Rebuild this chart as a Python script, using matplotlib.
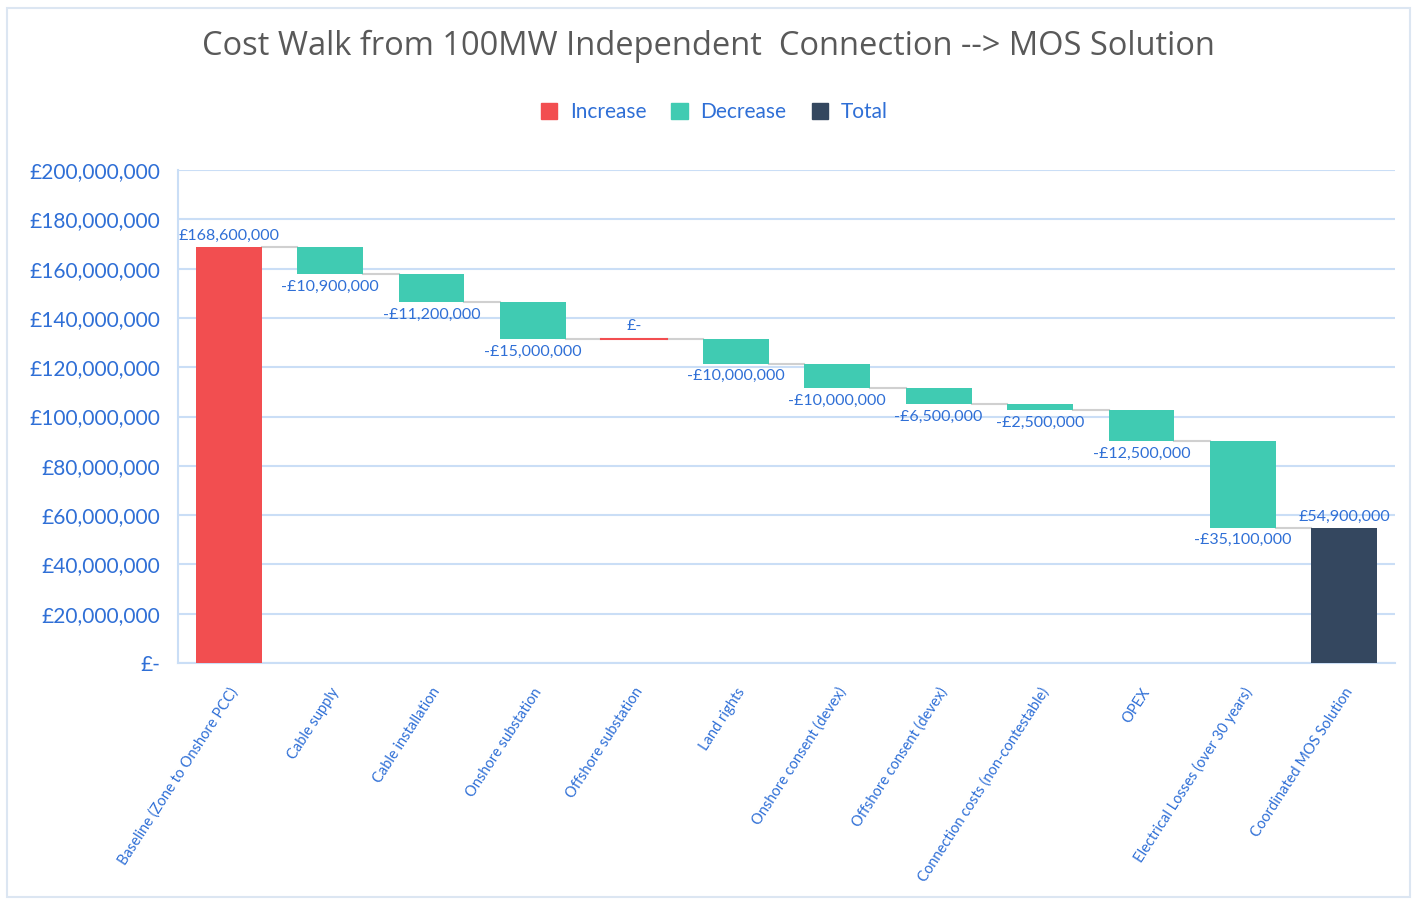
import matplotlib.pyplot as plt
from matplotlib.patches import Patch, Rectangle
from matplotlib.ticker import FuncFormatter
import numpy as np

# Cost walk data (GBP)
categories = ['Baseline (Zone to Onshore PCC)', 'Cable supply', 'Cable installation',
              'Onshore substation', 'Offshore substation', 'Land rights',
              'Onshore consent (devex)', 'Offshore consent (devex)',
              'Connection costs (non-contestable)', 'OPEX',
              'Electrical Losses (over 30 years)', 'Coordinated MOS Solution']
baseline = 168_600_000
changes = [-10_900_000, -11_200_000, -15_000_000, 0, -10_000_000, -10_000_000,
           -6_500_000, -2_500_000, -12_500_000, -35_100_000]
y_ticks = np.arange(0, 200_000_001, 20_000_000)

c_inc = '#F24E50'
c_dec = '#40CBB2'
c_tot = '#34475F'
c_txt = '#2F6FD6'
c_grid = '#CADEF6'

plt.rcParams['font.family'] = ['Lato', 'DejaVu Sans']

fig = plt.figure(figsize=(14.17, 9), dpi=100)
ax = fig.add_axes([0.1256, 0.2633, 0.8589, 0.5478])

n = len(categories)
x = np.arange(n)
w = 0.65

# running totals
levels = [baseline]
for c in changes:
    levels.append(levels[-1] + c)
total = levels[-1]

lbl_kw = dict(textcoords='offset points', ha='center', color=c_txt, fontsize=11.5)

# baseline bar
ax.bar(x[0], baseline, width=w, color=c_inc, zorder=3)
ax.annotate(f'£{baseline:,.0f}', (x[0], baseline), xytext=(0, 3), va='bottom', **lbl_kw)

# step bars
for i, c in enumerate(changes, start=1):
    start = levels[i - 1]
    end = levels[i]
    if c == 0:
        ax.plot([x[i] - w / 2, x[i] + w / 2], [start, start], color=c_inc, lw=1.5, zorder=3)
        ax.annotate('£-', (x[i], start), xytext=(0, 4), va='bottom', **lbl_kw)
    else:
        color = c_dec if c < 0 else c_inc
        ax.bar(x[i], end - start, bottom=start, width=w, color=color, zorder=3)
        sign = '-' if c < 0 else ''
        ax.annotate(f'{sign}£{abs(c):,.0f}', (x[i], min(start, end)), xytext=(0, -4),
                    va='top', **lbl_kw)

# total bar
ax.bar(x[-1], total, width=w, color=c_tot, zorder=3)
ax.annotate(f'£{total:,.0f}', (x[-1], total), xytext=(0, 3), va='bottom', **lbl_kw)

# connector lines
for i in range(n - 1):
    ax.plot([x[i] + w / 2, x[i + 1] - w / 2], [levels[i], levels[i]],
            color='#D0D0D0', lw=1.5, zorder=2)

ax.set_xlim(-0.5, n - 0.5)
ax.set_ylim(0, 200_000_000)
ax.set_yticks(y_ticks)
ax.yaxis.set_major_formatter(FuncFormatter(lambda v, p: '£-' if v == 0 else f'£{v:,.0f}'))
ax.grid(axis='y', color=c_grid, lw=1.5, zorder=0)
ax.set_axisbelow(True)
ax.tick_params(axis='y', length=0, pad=13, labelsize=15, labelcolor=c_txt)
ax.tick_params(axis='x', length=0, pad=16)
ax.set_xticks(x)
ax.set_xticklabels(categories, rotation=57, ha='right', va='top',
                   rotation_mode='anchor', fontsize=10.5, color=c_txt)

for s in ['top', 'right']:
    ax.spines[s].set_visible(False)
for s in ['left', 'bottom']:
    ax.spines[s].set_color(c_grid)
    ax.spines[s].set_linewidth(1.5)

fig.text(0.5, 0.948, 'Cost Walk from 100MW Independent  Connection --> MOS Solution',
         ha='center', va='center', fontsize=23.5, color='#595959', family='Open Sans')

handles = [Patch(color=c_inc, label='Increase'), Patch(color=c_dec, label='Decrease'),
           Patch(color=c_tot, label='Total')]
leg = fig.legend(handles=handles, loc='center', bbox_to_anchor=(0.504, 0.875), ncol=3,
                 frameon=False, fontsize=15, handlelength=0.8, handleheight=0.8,
                 handletextpad=0.6, columnspacing=1.2)
for t in leg.get_texts():
    t.set_color(c_txt)

# outer chart frame
fig.patches.append(Rectangle((0.005, 0.003), 0.99, 0.988, transform=fig.transFigure,
                             fill=False, edgecolor='#DCE6F2', lw=1.5))

fig.savefig('out.png', dpi=100)
